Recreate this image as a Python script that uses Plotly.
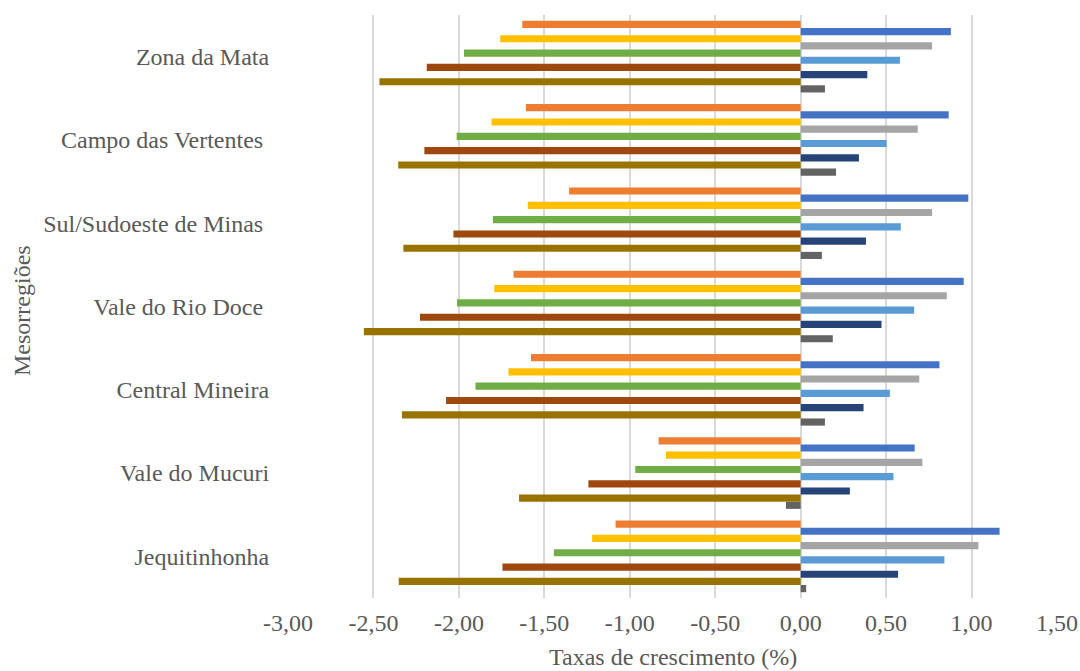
import plotly.graph_objects as go

# Categories (bottom to top as drawn)
regions = ["Jequitinhonha", "Vale do Mucuri", "Central Mineira", "Vale do Rio Doce ",
           "Sul/Sudoeste de Minas ", "Campo das Vertentes ", "Zona da Mata"]

# Series values, one entry per region in the order above
s_orange = [-1.083, -0.831, -1.578, -1.680, -1.355, -1.608, -1.629]
s_blue = [1.164, 0.667, 0.812, 0.954, 0.981, 0.866, 0.879]
s_yellow = [-1.220, -0.788, -1.710, -1.793, -1.597, -1.809, -1.758]
s_gray = [1.040, 0.712, 0.694, 0.855, 0.769, 0.685, 0.769]
s_green = [-1.444, -0.968, -1.903, -2.011, -1.801, -2.013, -1.970]
s_lightblue = [0.841, 0.543, 0.522, 0.664, 0.586, 0.503, 0.581]
s_brown = [-1.745, -1.242, -2.075, -2.228, -2.032, -2.202, -2.188]
s_navy = [0.570, 0.288, 0.368, 0.473, 0.382, 0.341, 0.390]
s_olive = [-2.352, -1.648, -2.333, -2.556, -2.325, -2.355, -2.465]
s_darkgray = [0.032, -0.086, 0.142, 0.188, 0.124, 0.207, 0.142]

# Tick values / labels for the x axis
x_ticks = [-3.0, -2.5, -2.0, -1.5, -1.0, -0.5, 0.0, 0.5, 1.0, 1.5]
x_tick_labels = ["-3,00", "-2,50", "-2,00", "-1,50", "-1,00", "-0,50", "0,00", "0,50", "1,00", "1,50"]

x_title = "Taxas de crescimento (%)"
y_title = "Mesorregiões"

# trace order: first trace drawn at the bottom of each group
series = [
    ("Série 10", s_darkgray, "#636363"),
    ("Série 9", s_olive, "#997300"),
    ("Série 8", s_navy, "#264478"),
    ("Série 7", s_brown, "#9E480E"),
    ("Série 6", s_lightblue, "#5B9BD5"),
    ("Série 5", s_green, "#70AD47"),
    ("Série 4", s_gray, "#A5A5A5"),
    ("Série 3", s_yellow, "#FFC000"),
    ("Série 2", s_blue, "#4472C4"),
    ("Série 1", s_orange, "#ED7D31"),
]

fig = go.Figure()
for name, vals, color in series:
    fig.add_trace(go.Bar(
        y=regions, x=vals, name=name, orientation="h",
        marker=dict(color=color, line=dict(width=0)),
        showlegend=False,
    ))

font_family = "Liberation Serif, Times New Roman, serif"
text_color = "#595959"
fsize = 24

fig.update_layout(
    width=1080, height=671,
    barmode="group", bargap=0.14, bargroupgap=0,
    plot_bgcolor="white", paper_bgcolor="white",
    margin=dict(l=288, r=23, t=15, b=73),
    font=dict(family=font_family, size=fsize, color=text_color),
    xaxis=dict(
        range=[-3.0, 1.5], tickvals=x_ticks, ticktext=x_tick_labels,
        showgrid=True, gridcolor="#D9D9D9", gridwidth=1.5,
        zeroline=False, showline=False, automargin=False,
        tickfont=dict(size=fsize, color=text_color),
        ticks="outside", ticklen=3, tickcolor="rgba(0,0,0,0)",
    ),
    yaxis=dict(
        showgrid=False, zeroline=False, showline=False, automargin=False,
        tickfont=dict(size=fsize, color=text_color),
        ticks="outside", ticklen=13, tickcolor="rgba(0,0,0,0)",
    ),
    annotations=[
        dict(text=x_title, xref="paper", yref="paper", x=0.5, y=-(657 - 598) / 583,
             xanchor="center", yanchor="middle", showarrow=False,
             font=dict(size=fsize, color=text_color, family=font_family)),
        dict(text=y_title, xref="paper", yref="paper", x=-(288 - 22) / 769, y=(598 - 311) / 583,
             xanchor="center", yanchor="middle", showarrow=False, textangle=-90,
             font=dict(size=fsize, color=text_color, family=font_family)),
    ],
)

fig.write_html("out.html", config={"displayModeBar": False},
               post_script="document.body.style.margin='0px';document.body.style.overflow='hidden';")
